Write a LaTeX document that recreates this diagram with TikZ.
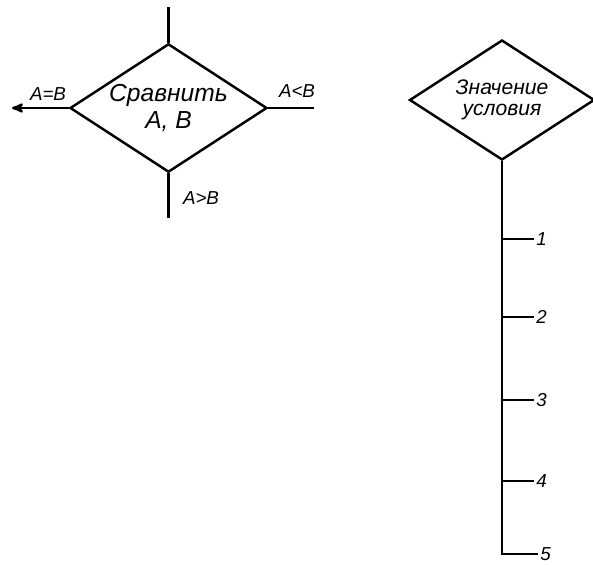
\documentclass[tikz,border=0pt]{standalone}
\usepackage{fontspec}
\setmainfont{Liberation Sans}
\usepackage{tikz}
\usetikzlibrary{arrows,shapes.geometric,positioning}

\begin{document}
\begin{tikzpicture}
              [x=0.03cm,y=-0.03cm,
                line width=2.1pt,
                every node/.style={draw=none,fill=none,inner sep=1pt,font=\itshape\fontsize{16}{17}\selectfont},
                cond/.style={diamond,draw,align=center,inner sep=-8pt,font=\itshape\fontsize{21}{23}\selectfont},
                word/.style={draw=none,fill=none}]
              \useasboundingbox (0,0) rectangle (593,565);
              % compare block
              \node[cond,minimum width=5.91cm,minimum height=3.48cm] (cmp) at (168.5,108) {Сравнить\\А, В};
              \coordinate (cin) at (cmp.north |- 0,7);
              \coordinate (ceq) at (12,108);
              \coordinate (clt) at (314,108);
              \coordinate (cgt) at (cmp.south |- 0,218);
              \draw (cin) -- (cmp.north);
              \draw[->,>=stealth'] (cmp.west) -- (ceq);
              \draw (cmp.east) -- (clt);
              \draw (cmp.south) -- (cgt);
              \node[word] (leq) at (48,94) {А=В};
              \node[word] (llt) at (297,91) {А<В};
              \node[word] (lgt) at (201,198) {А>В};
              % switch block
              \node[cond,minimum width=5.55cm,minimum height=3.6cm,font=\itshape\fontsize{18}{18}\selectfont] (sw) at (502,100) {Значение\\условия};
              \coordinate (s5) at (sw.south |- 0,554);
              \draw (sw.south) -- (s5) -- ++(36,0) node[word,anchor=west] (l5) {5};
              \foreach \i/\y in {1/239,2/317,3/400,4/481}
                \draw (sw.south |- 0,\y) -- ++(32,0) node[word,anchor=west] (l\i) {\i};
            \end{tikzpicture}
\end{document}
